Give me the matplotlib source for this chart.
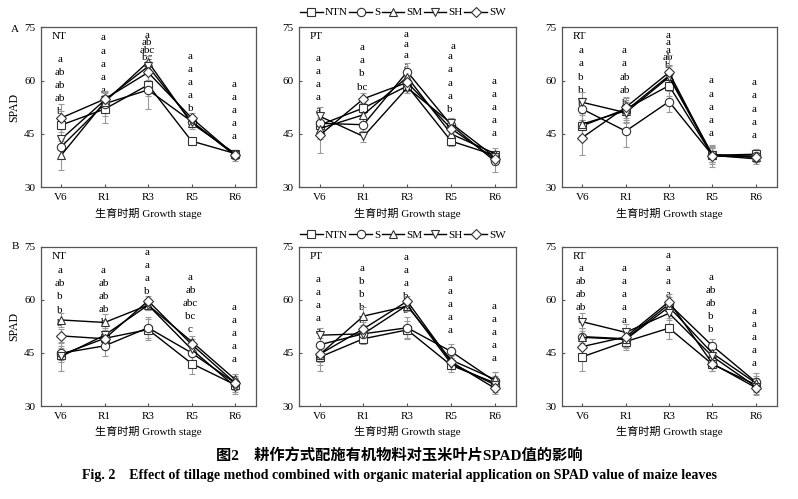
import matplotlib
matplotlib.use("Agg")
import matplotlib.pyplot as plt
from matplotlib.lines import Line2D

plt.rcParams['font.family'] = ['Liberation Serif', 'Noto Sans CJK SC', 'DejaVu Sans']
plt.rcParams['mathtext.fontset'] = 'stix'

stages = ["V6", "R1", "R3", "R5", "R6"]
series = ["NTN", "S", "SM", "SH", "SW"]

# ---- Panel A (top row) ----
A_NT_NTN = [47.5, 52.0, 58.8, 43.0, 39.5]
A_NT_S   = [41.4, 53.5, 57.4, 48.5, 39.0]
A_NT_SM  = [39.0, 54.0, 65.3, 48.0, 39.5]
A_NT_SH  = [43.5, 54.5, 64.0, 48.5, 39.0]
A_NT_SW  = [49.5, 54.8, 62.3, 49.5, 39.0]

A_PT_NTN = [47.5, 52.3, 58.5, 43.0, 39.0]
A_PT_S   = [48.0, 47.6, 62.5, 47.5, 37.3]
A_PT_SM  = [46.5, 50.4, 61.0, 45.0, 39.5]
A_PT_SH  = [50.0, 44.3, 58.0, 48.0, 38.5]
A_PT_SW  = [44.6, 54.9, 59.5, 46.5, 38.0]

A_RT_NTN = [47.3, 52.0, 58.6, 39.0, 39.3]
A_RT_S   = [52.0, 45.8, 54.1, 39.0, 38.8]
A_RT_SM  = [47.8, 51.5, 61.4, 39.2, 38.5]
A_RT_SH  = [53.9, 51.0, 61.0, 39.0, 38.0]
A_RT_SW  = [44.0, 52.5, 62.3, 38.8, 38.5]

# ---- Panel B (bottom row) ----
B_NT_NTN = [44.5, 49.1, 51.6, 42.0, 36.0]
B_NT_S   = [44.9, 47.0, 52.1, 45.0, 36.5]
B_NT_SM  = [54.3, 53.6, 58.5, 48.2, 37.5]
B_NT_SH  = [44.0, 50.0, 58.5, 46.0, 35.5]
B_NT_SW  = [49.8, 49.0, 59.7, 47.4, 36.5]

B_PT_NTN = [43.8, 49.0, 51.5, 41.5, 36.5]
B_PT_S   = [47.3, 50.4, 52.1, 45.4, 37.0]
B_PT_SM  = [44.5, 55.4, 58.2, 43.0, 37.5]
B_PT_SH  = [50.0, 50.4, 58.5, 42.0, 36.0]
B_PT_SW  = [44.6, 51.8, 59.6, 42.5, 35.0]

B_RT_NTN = [43.9, 48.2, 52.0, 41.8, 36.0]
B_RT_S   = [49.6, 49.0, 58.8, 47.0, 36.8]
B_RT_SM  = [49.4, 48.8, 58.0, 44.9, 36.5]
B_RT_SH  = [53.8, 50.8, 56.2, 44.0, 35.5]
B_RT_SW  = [46.8, 49.5, 59.5, 42.0, 35.2]

# ---- error bars ----
A_NT_ERR = [[4, 4, 3, 1, 1], [3, 3.5, 5.5, 1.5, 1], [4, 2, 1.5, 1.5, 1], [3, 2, 1.5, 1.5, 1.5], [4, 2, 2, 1.5, 1]]
A_PT_ERR = [[3, 1.5, 1.5, 1.5, 1], [3, 2, 2.5, 2, 3], [3, 2, 1.5, 1.5, 1.5], [2.5, 1.5, 1.5, 1.5, 1], [5, 1.5, 1.5, 1.5, 1]]
A_RT_ERR = [[3, 3, 3, 2, 1.5], [3, 4.5, 3, 2.5, 1.5], [3, 3, 3, 2, 1.5], [3, 3, 3, 2, 1.5], [5, 3, 5, 3, 1.5]]
B_NT_ERR = [[2, 2.5, 3, 3, 2], [2, 3, 3, 2, 2], [2, 2.5, 1.5, 1.5, 1.5], [4, 2, 1.5, 1.5, 2], [2, 2, 1.5, 1.5, 1.5]]
B_PT_ERR = [[4, 1.5, 2.5, 2, 2], [2, 2, 3, 2, 2.5], [2, 2.5, 1.5, 1.5, 2], [2, 2, 1.5, 1.5, 2], [3, 2, 1.5, 1.5, 1.5]]
B_RT_ERR = [[4, 2.5, 3, 2, 2], [2.5, 2.5, 2, 2, 2.5], [2.5, 2, 2, 2, 2], [2.5, 2.5, 2, 2, 2], [2.5, 2, 2, 2, 2]]

# ---- significance letters (per stage column) ----
A_NT_LET = [["a", "ab", "ab", "ab", "b"], ["a"] * 5, ["a", "ab", "abc", "bc", "c"], ["a", "a", "a", "a", "b"], ["a"] * 5]
A_PT_LET = [["a"] * 5, ["a", "a", "b", "bc", "c"], ["a"] * 5, ["a", "a", "a", "a", "b"], ["a"] * 5]
A_RT_LET = [["a", "a", "b", "b", "b"], ["a", "a", "ab", "ab", "b"], ["a", "a", "a", "ab", "b"], ["a"] * 5, ["a"] * 5]
B_NT_LET = [["a", "ab", "b", "b", "b"], ["a", "ab", "ab", "ab", "b"], ["a", "a", "a", "b", "b"], ["a", "ab", "abc", "bc", "c"], ["a"] * 5]
B_PT_LET = [["a"] * 5, ["a", "b", "b", "b", "b"], ["a", "a", "a", "b", "b"], ["a"] * 5, ["a"] * 5]
B_RT_LET = [["a", "ab", "ab", "ab", "b"], ["a"] * 5, ["a", "a", "a", "a", "b"], ["a", "ab", "ab", "b", "b"], ["a"] * 5]

# letter column placement (top value, line step)
A_NT_TOP = [(66.0, 3.7), (72.0, 3.7), (72.8, 2.1), (66.9, 3.7), (59.0, 3.7)]
A_PT_TOP = [(66.3, 3.7), (69.3, 3.7), (73.1, 3.0), (66.7, 3.7), (59.8, 3.7)]
A_RT_TOP = [(68.4, 3.7), (68.4, 3.7), (72.7, 2.1), (59.9, 3.7), (59.4, 3.7)]
B_NT_TOP = [(68.2, 3.7), (68.4, 3.7), (73.4, 3.7), (66.3, 3.7), (57.8, 3.7)]
B_PT_TOP = [(65.8, 3.7), (68.9, 3.7), (71.9, 3.7), (66.0, 3.7), (58.2, 3.7)]
B_RT_TOP = [(68.9, 3.7), (68.9, 3.7), (72.5, 3.7), (66.3, 3.7), (56.8, 3.7)]

panels = [
    ("NT", [A_NT_NTN, A_NT_S, A_NT_SM, A_NT_SH, A_NT_SW], A_NT_ERR, A_NT_LET, A_NT_TOP),
    ("PT", [A_PT_NTN, A_PT_S, A_PT_SM, A_PT_SH, A_PT_SW], A_PT_ERR, A_PT_LET, A_PT_TOP),
    ("RT", [A_RT_NTN, A_RT_S, A_RT_SM, A_RT_SH, A_RT_SW], A_RT_ERR, A_RT_LET, A_RT_TOP),
    ("NT", [B_NT_NTN, B_NT_S, B_NT_SM, B_NT_SH, B_NT_SW], B_NT_ERR, B_NT_LET, B_NT_TOP),
    ("PT", [B_PT_NTN, B_PT_S, B_PT_SM, B_PT_SH, B_PT_SW], B_PT_ERR, B_PT_LET, B_PT_TOP),
    ("RT", [B_RT_NTN, B_RT_S, B_RT_SM, B_RT_SH, B_RT_SW], B_RT_ERR, B_RT_LET, B_RT_TOP),
]

markers = ['s', 'o', '^', 'v', 'D']
msizes = [5.5, 6, 6, 6, 5.5]

W, H = 798, 499
fig = plt.figure(figsize=(W / 100, H / 100), dpi=100)

col_px = [(40.7, 215.3), (299.0, 217.0), (562.0, 214.5)]
row_px = [(27.3, 160.0), (246.7, 159.3)]

x = list(range(1, 6))
fs = 8

for i, (name, vals, errs, lets, tops) in enumerate(panels):
    r, c = divmod(i, 3)
    lpx, wpx = col_px[c]
    tpx, hpx = row_px[r]
    ax = fig.add_axes([lpx / W, 1 - (tpx + hpx) / H, wpx / W, hpx / H])
    for k in range(5):
        ax.errorbar(x, vals[k], yerr=errs[k], fmt='none', ecolor='#9a9a9a',
                    elinewidth=0.8, capsize=2, capthick=0.8, zorder=2)
    for k in range(5):
        ax.plot(x, vals[k], color='black', lw=1.0, marker=markers[k],
                markersize=msizes[k], markerfacecolor='white',
                markeredgecolor='#333333', markeredgewidth=0.8, zorder=3 + k)
    for j in range(5):
        top, step = tops[j]
        for m, s in enumerate(lets[j]):
            ax.text(x[j] - 0.03, top - m * step, s, ha='center', va='center',
                    fontsize=fs, zorder=1)
    if i == 1:
        ax.text(x[3] + 0.05, 69.5, "a", ha='center', va='center', fontsize=fs)
    ax.set_xlim(0.53, 5.48)
    ax.set_ylim(30, 75)
    ax.set_yticks([30, 45, 60, 75])
    ax.set_xticks(x)
    ax.set_xticklabels(stages)
    ax.tick_params(direction='in', length=2.5, width=0.8, labelsize=fs,
                   color='#555555', pad=4)
    for sp in ax.spines.values():
        sp.set_color('#555555')
        sp.set_linewidth(0.9)
    ax.text(0.05, 0.94, name, transform=ax.transAxes, ha='left', va='center',
            fontsize=fs)
    ax.set_xlabel("生育时期 Growth stage", fontsize=fs, labelpad=4)
    if c == 0:
        ax.set_ylabel("SPAD", fontsize=8.5, labelpad=3)

fig.text(15 / W, 1 - 29 / H, "A", fontsize=fs, ha='center', va='center')
fig.text(15 / W, 1 - 247 / H, "B", fontsize=fs, ha='center', va='center')

handles = [Line2D([0], [0], color='black', lw=1.0, marker=markers[k],
                  markersize=msizes[k], markerfacecolor='white',
                  markeredgecolor='#333333', markeredgewidth=0.8)
           for k in range(5)]
for ypx in (12.5, 235.0):
    fig.legend(handles, series, loc='center', bbox_to_anchor=(403 / W, 1 - ypx / H),
               ncol=5, frameon=False, fontsize=fs, handlelength=2.0,
               handletextpad=0.2, columnspacing=0.15, borderpad=0, borderaxespad=0)

fig.text(399 / W, 1 - 455 / H, "图2　耕作方式配施有机物料对玉米叶片SPAD值的影响",
         ha='center', va='center', fontsize=11, fontweight='bold')
fig.text(399 / W, 1 - 476 / H,
         "Fig. 2　Effect of tillage method combined with organic material application on SPAD value of maize leaves",
         ha='center', va='center', fontsize=10, fontweight='bold')

fig.savefig("out.png", dpi=100)
